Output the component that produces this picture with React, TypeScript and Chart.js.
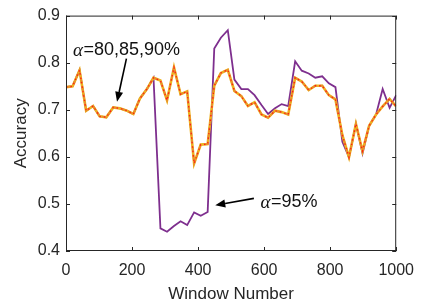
import React, { useEffect, useRef } from "react";
import { Chart, registerables } from "chart.js";

Chart.register(...registerables);

const windows = [0, 20, 41, 61, 82, 102, 122, 143, 163, 184, 204, 224, 245, 265, 286, 306, 327, 347, 367, 388, 408, 429, 449, 469, 490, 510, 531, 551, 571, 592, 612, 633, 653, 673, 694, 714, 735, 755, 776, 796, 816, 837, 857, 878, 898, 918, 939, 959, 980, 1000];

const acc80to90 = [0.748, 0.750, 0.784, 0.698, 0.708, 0.686, 0.684, 0.705, 0.703, 0.698, 0.691, 0.724, 0.744, 0.768, 0.762, 0.720, 0.790, 0.733, 0.739, 0.586, 0.626, 0.627, 0.751, 0.778, 0.785, 0.740, 0.729, 0.708, 0.716, 0.690, 0.683, 0.698, 0.695, 0.690, 0.768, 0.760, 0.742, 0.751, 0.751, 0.731, 0.722, 0.646, 0.599, 0.670, 0.612, 0.666, 0.690, 0.707, 0.723, 0.707];

const acc95 = [0.748, 0.750, 0.784, 0.698, 0.708, 0.686, 0.684, 0.705, 0.703, 0.698, 0.691, 0.724, 0.744, 0.768, 0.448, 0.441, 0.453, 0.463, 0.455, 0.482, 0.475, 0.483, 0.830, 0.853, 0.869, 0.764, 0.744, 0.744, 0.731, 0.710, 0.691, 0.703, 0.712, 0.708, 0.803, 0.783, 0.777, 0.768, 0.771, 0.756, 0.748, 0.632, 0.599, 0.670, 0.607, 0.666, 0.690, 0.744, 0.704, 0.731];

const xTicks = [0, 200, 400, 600, 800, 1000];
const yTicks = [0.4, 0.5, 0.6, 0.7, 0.8, 0.9];

// annotation: text anchor (left, vertical middle), arrow tail, arrow tip (data coords)
const annotations = [
  { label: "=80,85,90%", tx: 21, ty: 0.8274, ax0: 183, ay0: 0.8085, ax1: 154.5, ay1: 0.717 },
  { label: "=95%", tx: 589, ty: 0.5043, ax0: 569, ay0: 0.5118, ax1: 452, ay1: 0.497 },
];

const INK = "#262626";
const SANS = "'Liberation Sans', Arial, Helvetica, sans-serif";

const pts = (ys: number[]) => windows.map((x, i) => ({ x, y: ys[i] }));

const boxPlugin = {
  id: "boxTicks",
  afterDraw(chart: any) {
    const { ctx, chartArea: a, scales } = chart;
    ctx.save();
    ctx.strokeStyle = INK;
    ctx.lineWidth = 1;
    ctx.strokeRect(a.left + 0.5, a.top + 0.5, a.right - a.left - 1, a.bottom - a.top - 1);
    const L = 4;
    ctx.beginPath();
    xTicks.forEach((v) => {
      const px = Math.round(scales.x.getPixelForValue(v)) + 0.5;
      ctx.moveTo(px, a.bottom);
      ctx.lineTo(px, a.bottom - L);
      ctx.moveTo(px, a.top);
      ctx.lineTo(px, a.top + L);
    });
    yTicks.forEach((v) => {
      const py = Math.round(scales.y.getPixelForValue(v)) + 0.5;
      ctx.moveTo(a.left, py);
      ctx.lineTo(a.left + L, py);
      ctx.moveTo(a.right, py);
      ctx.lineTo(a.right - L, py);
    });
    ctx.stroke();

    // annotations
    annotations.forEach((an) => {
      const tx = scales.x.getPixelForValue(an.tx);
      const ty = scales.y.getPixelForValue(an.ty);
      ctx.fillStyle = "#111";
      ctx.textBaseline = "middle";
      ctx.textAlign = "left";
      ctx.font = "italic 19px 'Liberation Serif', 'DejaVu Serif', serif";
      ctx.fillText("\u03B1", tx, ty + 1);
      const aw = ctx.measureText("\u03B1").width;
      ctx.font = "18px " + SANS;
      ctx.fillText(an.label, tx + aw + 0.5, ty);

      const x0 = scales.x.getPixelForValue(an.ax0);
      const y0 = scales.y.getPixelForValue(an.ay0);
      const x1 = scales.x.getPixelForValue(an.ax1);
      const y1 = scales.y.getPixelForValue(an.ay1);
      const ang = Math.atan2(y1 - y0, x1 - x0);
      const hl = 10, hw = 4;
      const bx = x1 - hl * Math.cos(ang);
      const by = y1 - hl * Math.sin(ang);
      ctx.strokeStyle = "#000";
      ctx.lineWidth = 1.6;
      ctx.beginPath();
      ctx.moveTo(x0, y0);
      ctx.lineTo(bx, by);
      ctx.stroke();
      ctx.beginPath();
      ctx.moveTo(x1, y1);
      ctx.lineTo(bx + hw * Math.sin(ang), by - hw * Math.cos(ang));
      ctx.lineTo(bx - hw * Math.sin(ang), by + hw * Math.cos(ang));
      ctx.closePath();
      ctx.fillStyle = "#000";
      ctx.fill();
    });
    ctx.restore();
  },
};

export default function App() {
  const ref = useRef<HTMLCanvasElement>(null);
  useEffect(() => {
    if (!ref.current) return;
    const chart = new Chart(ref.current, {
      type: "line",
      data: {
        datasets: [
          { label: "80%", data: pts(acc80to90), borderColor: "#FF1A1A", borderWidth: 1.3, borderDash: [1.5, 3], pointRadius: 0, order: 0 },
          { label: "85%", data: pts(acc80to90), borderColor: "#E8902A", borderWidth: 1.8, borderDash: [5, 3], pointRadius: 0, order: 1 },
          { label: "90%", data: pts(acc80to90), borderColor: "#EDB120", borderWidth: 2.6, pointRadius: 0, order: 2 },
          { label: "95%", data: pts(acc95), borderColor: "#7E2F8E", borderWidth: 1.8, pointRadius: 0, order: 3 },
        ],
      },
      options: {
        animation: false,
        responsive: false,
        devicePixelRatio: 1,
        layout: { padding: { top: 5, right: 26, left: 0, bottom: 0 } },
        plugins: { legend: { display: false }, tooltip: { enabled: false } },
        elements: { line: { tension: 0, borderCapStyle: "butt", borderJoinStyle: "miter" } },
        scales: {
          x: {
            type: "linear",
            min: 0,
            max: 1000,
            afterFit: (s: any) => { s.height = 55; },
            afterBuildTicks: (s: any) => { s.ticks = xTicks.map((v) => ({ value: v })); },
            grid: { display: false, drawTicks: false },
            border: { display: false },
            ticks: { color: INK, font: { family: SANS, size: 16 }, padding: 10, maxRotation: 0, autoSkip: false, callback: (v: any) => String(v) },
            title: { display: true, text: "Window Number", color: INK, font: { family: SANS, size: 17 }, padding: { top: 0, bottom: 1 } },
          },
          y: {
            type: "linear",
            min: 0.4,
            max: 0.9,
            afterFit: (s: any) => { s.width = 66; },
            afterBuildTicks: (s: any) => { s.ticks = yTicks.map((v) => ({ value: v })); },
            grid: { display: false, drawTicks: false },
            border: { display: false },
            ticks: { color: INK, font: { family: SANS, size: 16 }, padding: 6, autoSkip: false, callback: (v: any) => Number(v).toFixed(1) },
            title: { display: true, text: "Accuracy", color: INK, font: { family: SANS, size: 17 }, padding: { top: 11, bottom: 0 } },
          },
        },
      },
      plugins: [boxPlugin],
    });
    return () => chart.destroy();
  }, []);
  return (
    <div style={{ position: "absolute", left: 0, top: 0, width: 424, height: 306, background: "#fff" }}>
      <canvas ref={ref} width={424} height={306} />
    </div>
  );
}
